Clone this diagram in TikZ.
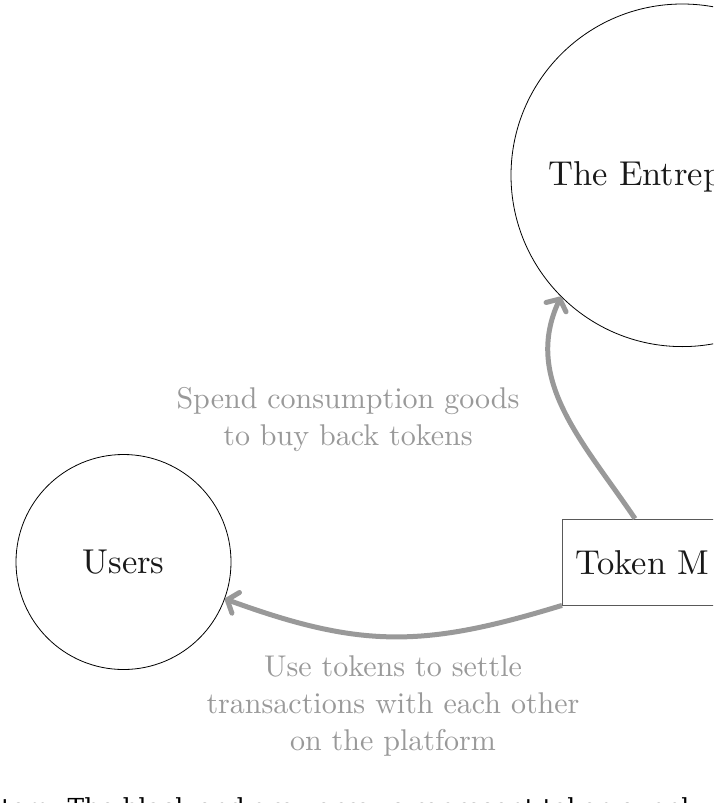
\documentclass[tikz,border=0pt]{standalone}
\usepackage{fontspec}
\setmainfont{lmroman10-regular.otf}
\newfontfamily\capfont{DejaVu Serif}
\usetikzlibrary{arrows.meta,calc}
\begin{document}
\begin{tikzpicture}[x=1pt,y=-1pt,
  party/.style={circle, draw=black, line width=0.8pt, inner sep=0pt},
  nodetext/.style={font=\fontsize{34.5}{40}\selectfont, text=black!90},
  flowlabel/.style={font=\fontsize{30}{37}\selectfont, text=black!40, align=center, inner sep=0pt},
  flow/.style={draw=black!40, line width=5pt, -{Straight Barb[length=9pt,width=22pt,round]}},
  marketbox/.style={draw=black!65, line width=0.8pt, minimum height=86pt, minimum width=300pt, inner sep=0pt}
]
\useasboundingbox (0,0) rectangle (713,803);
\clip (0,0) rectangle (713,803);
% nodes
\node[party, minimum size=342.6pt] (ent) at (682.3,175.3) {};
\node[nodetext, anchor=base west, inner sep=0pt] (entlabel) at (548,185) {The Entrep};
\node[party, nodetext, minimum size=215pt] (users) at (123.5,562) {Users};
\node[marketbox, anchor=west] (market) at (562,562) {};
\node[nodetext, anchor=base west, inner sep=0pt] (marketlabel) at (575,574.3) {Token M};
% flows
\coordinate (buystart) at ($(market.north west)+(73,0)$);
\draw[flow] (buystart) to[out=124, in=245] (ent.225.6);
\draw[flow] (market.south west) to[out=197, in=-20, looseness=1.1] (users.-20);
% labels
\node[flowlabel] (buylabel) at (348,419) {Spend consumption goods\\to buy back tokens};
\node[flowlabel] (uselabel) at (393,705.5) {Use tokens to settle\\transactions with each other\\on the platform};
% caption
\node[font=\capfont\fontsize{24.8}{30}\selectfont, anchor=base west, inner sep=0pt] (caption) at (1,816.5) {tem. The black and gray arrows represent token supply};
\end{tikzpicture}
\end{document}
